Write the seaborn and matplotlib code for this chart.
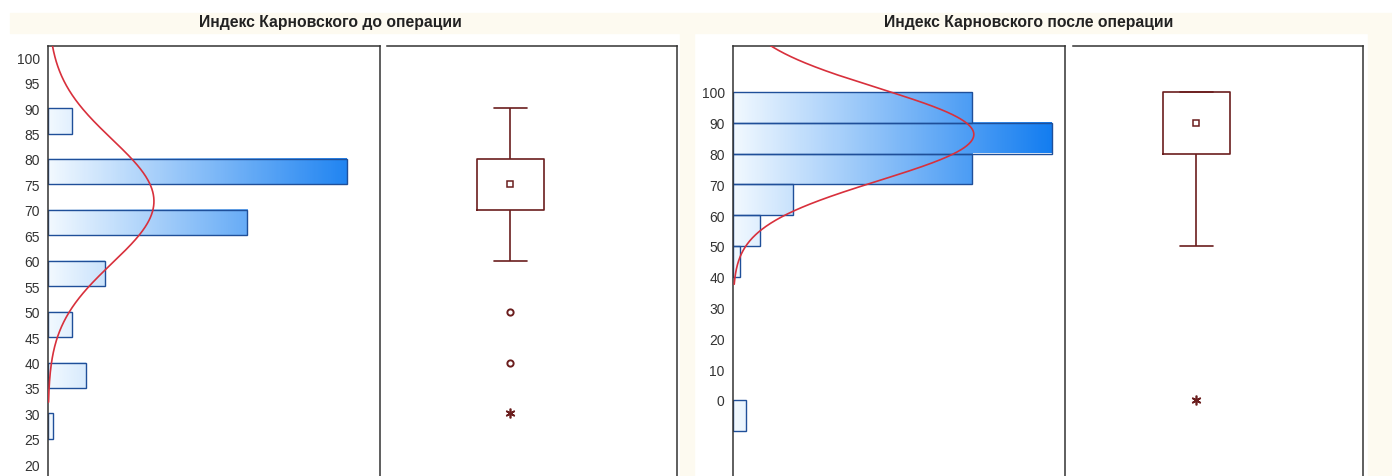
import numpy as np
import matplotlib
matplotlib.use("Agg")
import matplotlib.pyplot as plt
import seaborn as sns
from matplotlib.colors import LinearSegmentedColormap
from matplotlib.patches import Rectangle

# Karnofsky index, number of patients per score
before_values = [30, 40, 50, 60, 70, 80, 90]
before_counts = [1, 8, 5, 12, 42, 63, 5]
after_values = [0, 50, 60, 70, 80, 90, 100]
after_counts = [2, 1, 4, 9, 36, 48, 36]

titles = ["Индекс Карновского до операции", "Индекс Карновского после операции"]
before_ticks = list(range(20, 101, 5))
after_ticks = list(range(0, 101, 10))

sns.set_theme(style="white")
plt.rcParams['font.family'] = ['Liberation Sans', 'DejaVu Sans']

cream = '#FDFAF0'
maroon = '#6B1E1E'
edge_blue = '#1F4F99'
curve_red = '#D8303C'
grad = LinearSegmentedColormap.from_list('grad', ['#F2F9FF', '#0A78F0'])

fig = plt.figure(figsize=(13.92, 4.77), dpi=100, facecolor='white')
W, H = 1392, 477

# cream background bands
fig.patches.append(Rectangle((10 / W, 1 - 34 / H), (W - 10) / W, 20 / H,
                             transform=fig.transFigure, color=cream, zorder=0))
fig.patches.append(Rectangle((680 / W, 0), 14 / W, 1 - 34 / H,
                             transform=fig.transFigure, color=cream, zorder=0))
fig.patches.append(Rectangle((1368 / W, 0), 24 / W, 1 - 34 / H,
                             transform=fig.transFigure, color=cream, zorder=0))


def ax_at(x0, x1):
    return fig.add_axes([x0 / W, 0, (x1 - x0) / W, 1 - 47 / H])


panels = [
    (before_values, before_counts, 5, (17.7, 102.2), 70, before_ticks, 48, 380, 387, 677, 330),
    (after_values, after_counts, 10, (-24.7, 114.9), 50, after_ticks, 733, 1065, 1073, 1363, 1029),
]

for i, (vals, cnts, bw, ylim, xmax, ticks, hx0, hx1, bx0, bx1, tx) in enumerate(panels):
    vals = np.array(vals)
    cnts = np.array(cnts)
    data = np.repeat(vals, cnts)

    # histogram (horizontal bars)
    axh = ax_at(hx0, hx1)
    centers = vals - bw / 2
    sns.barplot(x=cnts, y=centers, orient='h', native_scale=True, width=bw / 10,
                errorbar=None, ax=axh, color='white', edgecolor=edge_blue,
                linewidth=1.0)
    for p in axh.patches:
        x0, y0, w, h = p.get_x(), p.get_y(), p.get_width(), p.get_height()
        p.set_facecolor('none')
        p.set_zorder(2)
        g = np.linspace(0, w / xmax, 256)[None, :]
        axh.imshow(g, extent=[x0, x0 + w, y0, y0 + h], cmap=grad, vmin=0, vmax=1,
                   aspect='auto', origin='lower', zorder=1, interpolation='bilinear')

    # fitted normal curve
    mu, sd = data.mean(), data.std(ddof=1)
    yy = np.linspace(mu - 3.25 * sd, ylim[1] + 5, 400)
    curve = len(data) * bw * np.exp(-0.5 * ((yy - mu) / sd) ** 2) / (sd * np.sqrt(2 * np.pi))
    sns.lineplot(x=curve, y=yy, sort=False, estimator=None, color=curve_red,
                 linewidth=1.2, ax=axh, zorder=3)

    axh.set_xlim(0, xmax)
    axh.set_ylim(*ylim)
    axh.set_yticks(ticks)
    axh.set_xticks([])
    axh.set_xlabel('')
    axh.set_ylabel('')
    axh.tick_params(axis='y', length=0, pad=6, labelsize=10, labelcolor='#333333')
    axh.spines['bottom'].set_visible(False)
    for s in ['left', 'top', 'right']:
        axh.spines[s].set_color('#333333')
        axh.spines[s].set_linewidth(1.1)

    # box plot
    axb = ax_at(bx0, bx1)
    sns.boxplot(y=data, ax=axb, width=0.46, fill=False, color=maroon, linewidth=1.2,
                showfliers=False, whis=1.5, medianprops={'visible': False})
    q1, q3 = np.percentile(data, [25, 75])
    iqr = q3 - q1
    uniq = np.unique(data)
    outl = uniq[((uniq < q1 - 1.5 * iqr) & (uniq >= q1 - 3 * iqr)) |
                ((uniq > q3 + 1.5 * iqr) & (uniq <= q3 + 3 * iqr))]
    extr = uniq[(uniq < q1 - 3 * iqr) | (uniq > q3 + 3 * iqr)]
    axb.plot([0], [np.median(data)], 's', ms=4.5, mfc='white', mec=maroon, mew=1.1)
    axb.plot(np.zeros(len(outl)), outl, 'o', ms=4.5, mfc='white', mec=maroon, mew=1.4)
    axb.plot(np.zeros(len(extr)), extr, marker=(6, 2, 0), ls='none', ms=7,
             color=maroon, mew=1.2)
    axb.set_xlim(-0.85, 1.15)
    axb.set_ylim(*ylim)
    axb.set_xticks([])
    axb.set_yticks([])
    axb.set_xlabel('')
    axb.set_ylabel('')
    axb.spines['bottom'].set_visible(False)
    axb.spines['left'].set_visible(False)
    for s in ['top', 'right']:
        axb.spines[s].set_color('#333333')
        axb.spines[s].set_linewidth(1.1)

    fig.text(tx / W, 1 - 23 / H, titles[i], ha='center', va='center',
             fontsize=11.3, fontweight='bold', color='#222222')

fig.savefig('out.png', dpi=100, facecolor=fig.get_facecolor())
